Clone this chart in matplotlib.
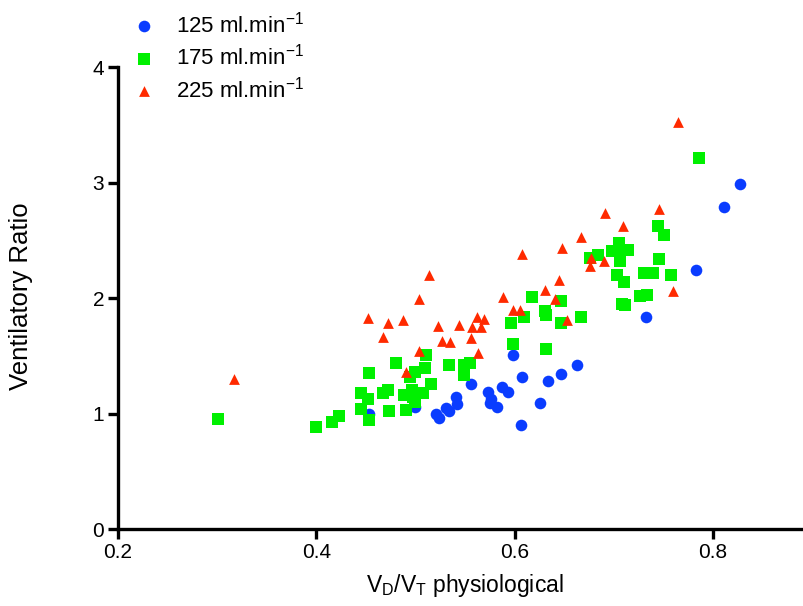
import matplotlib.pyplot as plt

plt.rcParams["font.family"] = ["Liberation Sans", "DejaVu Sans"]
plt.rcParams["mathtext.fontset"] = "custom"
plt.rcParams["mathtext.rm"] = "Liberation Sans"

# values
vd_125 = [0.453, 0.500, 0.521, 0.524, 0.531, 0.534, 0.541, 0.542, 0.556, 0.573,
          0.576, 0.575, 0.582, 0.587, 0.593, 0.598, 0.608, 0.607, 0.626, 0.634,
          0.647, 0.663, 0.733, 0.783, 0.811, 0.827]
vr_125 = [1.00, 1.06, 1.00, 0.96, 1.05, 1.02, 1.14, 1.08, 1.26, 1.19,
          1.13, 1.09, 1.06, 1.23, 1.19, 1.51, 1.32, 0.90, 1.09, 1.28,
          1.34, 1.42, 1.84, 2.24, 2.79, 2.99]

vd_175 = [0.301, 0.400, 0.416, 0.423, 0.445, 0.445, 0.452, 0.453, 0.453, 0.467,
          0.472, 0.473, 0.480, 0.489, 0.491, 0.495, 0.497, 0.498, 0.500, 0.500,
          0.510, 0.511, 0.508, 0.516, 0.534, 0.549, 0.549, 0.555, 0.596, 0.598,
          0.610, 0.618, 0.631, 0.632, 0.647, 0.647, 0.632, 0.667, 0.676, 0.684,
          0.698, 0.705, 0.706, 0.714, 0.706, 0.703, 0.710, 0.708, 0.711, 0.727,
          0.734, 0.731, 0.740, 0.746, 0.758, 0.745, 0.751, 0.786]
vr_175 = [0.95, 0.88, 0.93, 0.98, 1.18, 1.04, 1.13, 1.35, 0.94, 1.18,
          1.20, 1.02, 1.44, 1.16, 1.03, 1.32, 1.20, 1.14, 1.10, 1.36,
          1.39, 1.51, 1.18, 1.26, 1.42, 1.42, 1.33, 1.44, 1.78, 1.60,
          1.84, 2.01, 1.89, 1.85, 1.97, 1.78, 1.56, 1.84, 2.35, 2.37,
          2.41, 2.48, 2.42, 2.42, 2.32, 2.20, 2.14, 1.95, 1.94, 2.02,
          2.03, 2.22, 2.22, 2.34, 2.20, 2.62, 2.55, 3.21]

vd_225 = [0.317, 0.452, 0.467, 0.472, 0.487, 0.491, 0.504, 0.504, 0.514, 0.523,
          0.527, 0.535, 0.544, 0.556, 0.557, 0.562, 0.563, 0.569, 0.566, 0.588,
          0.598, 0.606, 0.608, 0.631, 0.641, 0.645, 0.648, 0.653, 0.667, 0.677,
          0.676, 0.690, 0.691, 0.709, 0.746, 0.760, 0.765]
vr_225 = [1.30, 1.83, 1.66, 1.78, 1.81, 1.36, 1.99, 1.54, 2.20, 1.76,
          1.63, 1.62, 1.77, 1.65, 1.75, 1.84, 1.52, 1.82, 1.75, 2.01,
          1.90, 1.90, 2.38, 2.07, 1.99, 2.16, 2.43, 1.81, 2.53, 2.35,
          2.28, 2.32, 2.74, 2.62, 2.77, 2.06, 3.52]

labels = ["125 ml.min$^{-1}$", "175 ml.min$^{-1}$", "225 ml.min$^{-1}$"]
x_ticks = [0.2, 0.4, 0.6, 0.8]
y_ticks = [0, 1, 2, 3, 4]

fig = plt.figure(figsize=(8.04, 6.06), dpi=100)
ax = fig.add_axes([0.1468, 0.127, 0.863, 0.7624])

ax.scatter(vd_125, vr_125, s=70, marker="o", color="#0a3cff", linewidths=0, label=labels[0])
ax.scatter(vd_175, vr_175, s=82, marker="s", color="#00f000", linewidths=0, label=labels[1])
ax.scatter(vd_225, vr_225, s=60, marker="^", color="#ff2a00", linewidths=0, label=labels[2])

ax.set_xlim(0.2, 0.9)
ax.set_ylim(0, 4)
ax.set_xticks(x_ticks)
ax.set_xticklabels([str(t) for t in x_ticks])
ax.set_yticks(y_ticks)

for side in ["top", "right"]:
    ax.spines[side].set_visible(False)
for side in ["left", "bottom"]:
    ax.spines[side].set_linewidth(2.4)
ax.tick_params(width=2.4, length=7, labelsize=15, pad=3)

ax.set_xlabel("V$_\\mathregular{D}$/V$_\\mathregular{T}$ physiological", fontsize=16.5)
ax.xaxis.set_label_coords(0.5, -0.092)
ax.set_ylabel("Ventilatory Ratio", fontsize=18.5)
ax.yaxis.set_label_coords(-0.122, 0.505)

fig.legend(loc="upper left", bbox_to_anchor=(0.152, 1.0), frameon=False,
           fontsize=16, handletextpad=0.9, labelspacing=0.3, borderpad=0.0,
           handlelength=1.0)

fig.savefig("out.png", dpi=100)
